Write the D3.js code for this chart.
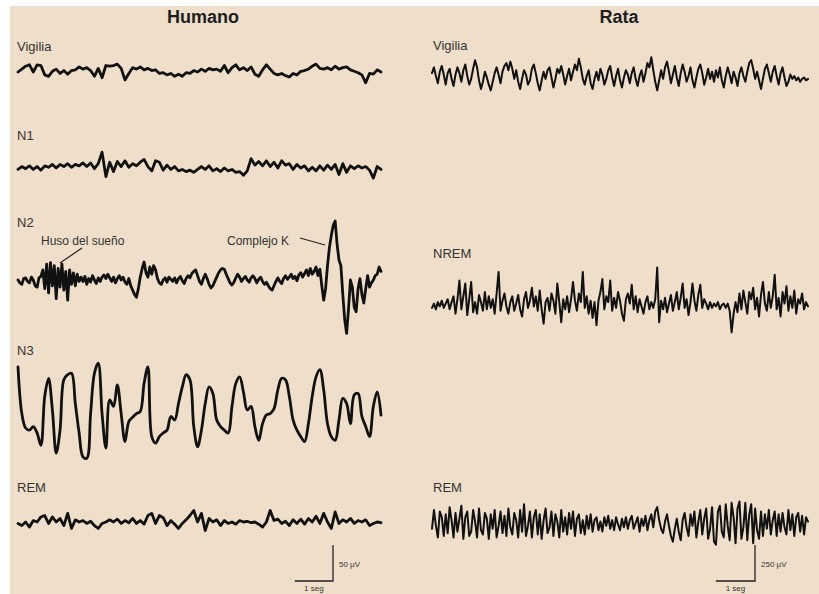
<!DOCTYPE html>
<html>
<head>
<meta charset="utf-8">
<script src="https://cdn.jsdelivr.net/npm/d3@7"></script>
<style>
  body { margin: 0; background: #fff; }
  svg { display: block; font-family: "Liberation Sans", Arial, sans-serif; }
</style>
</head>
<body>
<svg id="chart" width="819" height="594"></svg>
<script>
// column titles and stage labels
const columnTitles = ["Humano", "Rata"];
const humanStages = ["Vigilia", "N1", "N2", "N3", "REM"];
const rataStages = ["Vigilia", "NREM", "REM"];

// calibration bars
const scaleBarUV = [50, 250];
const scaleBarSec = 1;
const scaleBarUnits = ["µV", "seg"];

// annotations on the N2 trace
const annotations = ["Huso del sueño", "Complejo K"];

// sampling interval of each trace (s)
const dtHumanVigilia = 0.1, dtHumanN1 = 0.1, dtHumanN2 = 0.05, dtHumanN3 = 0.1, dtHumanREM = 0.1;
const dtRata = 0.05;

// EEG values (µV, up = positive)
const humanVigilia = [0,4,8,10,0,10,9,-4,-6,1,4,-2,2,-3,2,3,7,4,6,2,-6,5,-8,9,8,9,11,5,-11,-2,
  6,4,7,3,5,2,3,-2,-1,-4,-2,-6,-3,-6,-1,-2,2,0,4,1,5,3,4,1,9,-1,6,10,3,6,
  2,7,-3,-6,3,10,4,-2,-4,-2,-5,-7,-2,-4,1,2,4,8,11,5,4,6,3,8,4,6,7,3,1,-1,
  -4,-15,-2,-3,3,0];

const humanN1 = [-2,2,-1,3,-2,2,-3,3,1,5,0,5,2,6,1,5,3,7,2,7,-1,6,22,-12,8,-5,9,2,10,1,
  6,3,8,12,2,-4,10,8,-3,4,-2,2,-4,-2,-5,-3,-6,-2,2,-2,3,-4,-1,-5,0,-4,-2,-6,-5,-10,
  -4,13,4,9,3,10,2,8,0,10,4,6,-2,5,0,3,-4,1,-4,3,-3,4,-2,5,-9,6,-6,3,-1,3,
  0,2,-3,-14,2,-2];

const humanN2 = [0,-4,-6,2,3,-2,-4,4,0,-8,-10,3,5,
  14,-12,22,-18,24,-8,20,-26,16,-10,22,-14,12,-28,14,-6,10,-8,8,-2,
  4,-2,5,-6,2,-3,6,0,-5,3,-2,4,7,2,8,3,-2,4,-4,2,6,0,4,-3,-6,2,-8,-14,
  -20,-24,-12,4,
  16,25,10,4,18,8,
  20,14,2,-4,-6,0,3,
  -3,4,1,-2,3,-4,2,5,-1,-5,2,6,3,9,12,
  14,6,-2,-6,2,8,2,-6,-11,-8,-2,4,10,14,16,15,8,2,
  -4,-7,-3,3,8,4,-2,2,5,0,-3,3,6,2,-4,1,4,-2,-6,-3,-8,-12,
  -14,-8,-2,3,-2,-5,2,6,1,4,8,2,5,-1,7,10,4,9,14,6,
  16,8,12,18,6,15,-8,-28,-12,20,45,62,76,82,50,28,20,-20,-55,-74,
  -40,0,-10,-38,-44,-12,2,-20,-32,-12,6,-10,-4,0,6,8,18,12];

const humanN3 = [60,-5,-25,-28,-23,-32,-49,19,44,0,-60,-28,42,49,51,9,-32,-65,-67,-5,
  51,65,-5,-53,14,5,35,-5,-44,-16,-10,-5,-2,37,60,-37,-46,-37,-32,-28,
  -9,-14,9,32,49,42,-23,-51,-28,9,32,23,-14,-23,-28,-32,5,37,46,25,
  0,5,-23,-42,-19,-7,-5,2,28,44,42,19,-14,-28,-37,-44,-19,19,46,56,
  28,-19,-37,-42,-14,16,9,-19,21,23,-9,-23,-37,5,25,-7];

const humanREM = [-2,-5,0,-7,2,0,7,9,-2,7,0,5,-5,12,-9,3,0,2,-2,1,-5,-9,-2,0,3,0,4,-2,2,-1,
  5,-2,2,-3,9,12,-2,9,6,-5,2,-3,-9,-2,3,9,16,0,12,-12,5,0,3,-5,2,-2,0,-3,2,0,
  1,-1,0,-3,-7,0,16,2,4,-2,1,-5,3,-2,4,-3,5,0,8,-2,12,0,-9,14,-2,3,0,5,-2,2,
  0,3,-5,-2,0,-1];

const rataVigilia = [20,60,0,-50,30,70,10,-60,20,50, -20,-70,10,60,20,-40,40,80,0,-60,
  -20,50,110,60,-30,-90,-40,30,-10,-60, -100,-40,20,60,10,-50,30,70,90,40,
  100,50,-20,40,-40,-90,-20,40,10,-60, -30,50,80,20,-50,-100,-30,30,-20,40,
  60,-10,-80,-20,50,20,70,10,-60,0, 50,-30,30,80,40,120,60,-20,-60,0,
  40,-50,-90,-20,30,-30,50,10,-60,-20, 40,70,-10,-70,0,50,-30,-80,-10,40,
  10,-50,20,60,-20,-70,0,40,-40,20, 90,60,130,40,-40,-100,-30,40,-20,60,
  100,30,-50,10,70,-10,-70,20,80,30, -40,0,60,-30,-80,-10,50,80,20,-60,
  -10,50,-20,30,-40,40,-10,60,-30,-80, 0,60,10,-50,30,-10,-70,20,60,0,
  -40,30,90,110,50,-20,30,-30,-90,-20, 50,80,20,-40,30,70,0,-60,20,60,
  -10,-70,-40,10,-20,0,-30,-10,-40,-20, -10,-30,-20];

const rataNREM = [-20,10,-30,20,-10,30,-20,10,40,-30, 20,60,-60,40,170,-30,60,150,-70,40,
  160,-50,20,-60,70,20,-40,90,-30,60, -20,40,-60,80,230,-40,30,80,-10,-60,
  20,60,-40,10,70,-30,-80,40,90,-20, 30,120,-10,60,-40,100,-30,-130,20,50,
  -40,80,30,-60,150,20,-120,40,-30,60, -50,40,160,30,-40,80,20,230,-20,60,
  -60,30,-90,20,-140,30,90,180,-30,60, 20,170,-40,50,-20,90,30,-60,-110,40,
  80,10,140,-30,60,-50,40,-10,-60,20, 60,-30,20,-20,40,260,-120,30,-30,50,
  -50,10,70,-40,20,90,-30,50,150,-20, 40,-70,20,150,30,-40,70,140,-20,40,
  10,-30,20,-20,10,-10,20,-30,0,10, -20,10,-40,-190,-60,20,-50,80,-30,100,
  20,-60,90,40,120,-30,50,-80,70,160, 10,-40,90,-20,60,210,-30,50,-80,90,
  10,130,-40,60,-20,100,-60,40,10,80, -30,20,-10];

const rataREM = [-40,90,-20,-100,80,40,-90,60,-70,110, 20,-100,70,-60,30,120,-110,40,80,-90,
  -60,90,10,-100,100,-50,-80,70,30,-110, 60,-40,90,-100,-20,80,-70,50,-90,100,
  -30,-80,70,20,-100,90,-60,130,-90,-20, 80,-100,40,90,-80,60,-110,20,100,-70,
  -30,80,-90,60,10,-100,90,-60,40,-80, 70,-40,80,-90,30,60,-70,20,-80,50,
  -40,60,-60,20,40,-50,10,-60,40,-20, 50,-40,20,-50,40,-10,-50,30,-30,40,
  -40,20,50,-40,0,40,-60,30,-20,50, -50,20,60,-30,80,110,20,-40,-70,10,
  60,-20,-90,-130,-40,30,-60,-120,20,70, -30,-90,60,-20,80,-100,10,90,-80,30,
  100,-110,-40,110,-130,-150,80,120,-60,-100, 130,-20,-120,140,40,-140,100,150,-110,-30,
  140,-120,60,130,-140,100,-50,-110,80,-90, 60,-40,90,-80,20,80,-90,60,-60,70,
  -30,-80,90,-50,60,-90,40,70,-60,50, -80,40,10];

const W = 819, H = 594;
const svg = d3.select("#chart");

svg.append("rect").attr("x", 0).attr("y", 0).attr("width", W).attr("height", H).attr("fill", "#ffffff");
svg.append("rect").attr("x", 10).attr("y", 6).attr("width", W - 10).attr("height", H - 6).attr("fill", "#efdfca");

// one panel per species: x maps seconds, y maps µV (50 µV = 36 px human, 250 µV = 36 px rata)
const panels = [
  {
    title: columnTitles[0], titleX: 203, x0: 18, x1: 381, labelX: 17,
    y: d3.scaleLinear().domain([0, scaleBarUV[0]]).range([0, -36]),
    bar: scaleBarUV[0], barX: 333, barY: 581,
    traces: [
      { label: humanStages[0], data: humanVigilia, dt: dtHumanVigilia, cy: 72, ly: 51 },
      { label: humanStages[1], data: humanN1, dt: dtHumanN1, cy: 168, ly: 140 },
      { label: humanStages[2], data: humanN2, dt: dtHumanN2, cy: 280, ly: 227 },
      { label: humanStages[3], data: humanN3, dt: dtHumanN3, cy: 410, ly: 355, curve: d3.curveCatmullRom },
      { label: humanStages[4], data: humanREM, dt: dtHumanREM, cy: 522, ly: 492 }
    ],
    width: 2.8
  },
  {
    title: columnTitles[1], titleX: 619, x0: 432, x1: 808, labelX: 433,
    y: d3.scaleLinear().domain([0, scaleBarUV[1]]).range([0, -36]),
    bar: scaleBarUV[1], barX: 755, barY: 581,
    traces: [
      { label: rataStages[0], data: rataVigilia, dt: dtRata, cy: 76, ly: 50 },
      { label: rataStages[1], data: rataNREM, dt: dtRata, cy: 305, ly: 258 },
      { label: rataStages[2], data: rataREM, dt: dtRata, cy: 523, ly: 492 }
    ],
    width: 2.0
  }
];

panels.forEach(p => {
  svg.append("text")
    .attr("x", p.titleX).attr("y", 23)
    .attr("text-anchor", "middle")
    .attr("font-size", 18).attr("font-weight", "bold")
    .attr("fill", "#1e1e1e")
    .text(p.title);

  let pxPerSec;
  p.traces.forEach(t => {
    const dur = (t.data.length - 1) * t.dt;
    const x = d3.scaleLinear().domain([0, dur]).range([p.x0, p.x1]);
    pxPerSec = x(1) - x(0);

    svg.append("text")
      .attr("x", p.labelX).attr("y", t.ly)
      .attr("font-size", 13).attr("fill", "#333")
      .text(t.label);

    const line = d3.line()
      .curve(t.curve || d3.curveLinear)
      .x((d, i) => x(i * t.dt))
      .y(d => p.y(d));

    svg.append("g")
      .attr("transform", `translate(0,${t.cy})`)
      .append("path")
      .datum(t.data)
      .attr("d", line)
      .attr("fill", "none")
      .attr("stroke", "#111")
      .attr("stroke-width", p.width)
      .attr("stroke-linejoin", "round")
      .attr("stroke-linecap", "round");
  });

  // calibration bar
  const g = svg.append("g").attr("transform", `translate(${p.barX},${p.barY})`);
  const secW = pxPerSec * scaleBarSec;
  g.append("path")
    .attr("d", `M${-secW},0H0V${p.y(p.bar)}`)
    .attr("fill", "none").attr("stroke", "#222").attr("stroke-width", 1.3);
  g.append("text")
    .attr("x", 6).attr("y", p.y(p.bar / 2) + 4)
    .attr("font-size", 8).attr("fill", "#333")
    .text(`${p.bar} ${scaleBarUnits[0]}`);
  g.append("text")
    .attr("x", -secW / 2).attr("y", 10)
    .attr("text-anchor", "middle")
    .attr("font-size", 8).attr("fill", "#333")
    .text(`${scaleBarSec} ${scaleBarUnits[1]}`);
});

// annotations on N2
svg.append("text").attr("x", 41).attr("y", 245)
  .attr("font-size", 12).attr("fill", "#333").text(annotations[0]);
svg.append("line").attr("x1", 82).attr("y1", 248).attr("x2", 60).attr("y2", 263)
  .attr("stroke", "#222").attr("stroke-width", 1.2);
svg.append("text").attr("x", 227).attr("y", 245)
  .attr("font-size", 12).attr("fill", "#333").text(annotations[1]);
svg.append("line").attr("x1", 300).attr("y1", 238).attr("x2", 325).attr("y2", 245)
  .attr("stroke", "#222").attr("stroke-width", 1.2);
</script>
</body>
</html>
